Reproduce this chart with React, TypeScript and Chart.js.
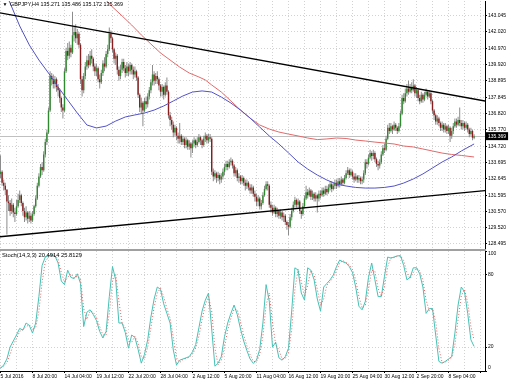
import { useEffect, useRef } from "react";
import { Chart, registerables } from "chart.js";

Chart.register(...registerables);

// ---------------- data ----------------
const symbolTitle = "GBPJPY,H4";
const lastBarOHLC = [135.271, 135.486, 135.172, 135.369];
const stochTitle = "Stoch(14,3,3)";
const stochLastValues = [20.4914, 25.8129];

const timeLabels = [
  "5 Jul 2016", "8 Jul 20:00", "14 Jul 04:00", "19 Jul 12:00", "22 Jul 20:00",
  "28 Jul 04:00", "2 Aug 12:00", "5 Aug 20:00", "11 Aug 04:00", "16 Aug 12:00",
  "19 Aug 20:00", "25 Aug 04:00", "30 Aug 12:00", "2 Sep 20:00", "8 Sep 04:00",
];
const barsPerGridLine = 10;
const gridLineCount = 31;

const priceTicks = [
  143.045, 142.02, 140.97, 139.92, 138.895, 137.845, 136.82, 135.77,
  134.72, 133.695, 132.645, 131.595, 130.57, 129.52, 128.495,
];
const stochTicks = [0, 20, 80, 100];

const firstOpen = 132.95;
const closes = [
  133.10, 132.40, 132.20, 131.95, 131.20, 131.10, 130.60, 131.00, 130.50, 130.40,
  130.90, 131.30, 131.60, 131.10, 130.60, 130.20, 130.50, 130.10, 130.30, 130.00,
  130.40, 130.90, 131.40, 132.20, 132.80, 133.40, 133.20, 134.20, 135.00, 135.60,
  137.00, 139.20, 139.00, 138.70, 139.00, 138.50, 138.30, 137.80, 137.20, 137.00,
  139.50, 140.80, 140.50, 141.00, 140.70, 141.80, 142.00, 141.60, 141.90, 141.20,
  139.00, 138.30, 139.20, 139.80, 140.20, 139.90, 140.50, 140.30, 139.80, 139.50,
  139.70, 139.00, 138.80, 139.40, 140.00, 139.80, 140.60, 140.90, 141.90, 141.60,
  140.90, 140.30, 140.50, 139.60, 139.20, 139.60, 140.10, 139.70, 139.40, 139.80,
  139.50, 139.90, 139.60, 139.30, 139.50, 139.10, 138.00, 137.20, 137.50, 137.00,
  137.60, 137.40, 137.90, 138.30, 138.80, 139.30, 138.90, 139.20, 139.00, 138.60,
  138.20, 138.50, 138.00, 138.60, 138.20, 136.70, 136.40, 136.10, 135.60, 135.90,
  135.40, 135.20, 135.40, 135.00, 135.20, 134.80, 135.10, 134.70, 134.90, 134.60,
  134.90, 135.10, 134.80, 135.00, 135.30, 135.10, 134.80, 135.20, 135.40, 135.10,
  135.30, 135.20, 133.10, 132.80, 133.00, 132.70, 132.90, 132.60, 132.80, 133.10,
  133.40, 133.60, 133.40, 133.70, 133.80, 133.50, 133.00, 133.20, 132.70, 132.80,
  132.50, 132.70, 132.40, 132.20, 132.40, 132.10, 131.90, 132.10, 131.70, 131.50,
  131.20, 131.40, 130.90, 131.10, 131.60, 132.00, 132.30, 132.20, 131.00, 130.80,
  130.50, 130.80, 130.40, 130.60, 130.30, 130.50, 130.20, 130.30, 129.90, 129.70,
  129.60, 130.20, 130.60, 131.00, 131.30, 131.00, 131.20, 130.60, 130.40, 130.90,
  131.40, 131.80, 131.60, 131.90, 131.50, 131.70, 131.40, 131.60, 131.40, 131.70,
  131.60, 131.90, 131.70, 132.00, 131.80, 132.10, 132.30, 132.00, 132.20, 132.40,
  132.20, 132.50, 132.30, 132.60, 132.40, 132.70, 133.00, 133.20, 132.90, 133.10,
  132.80, 132.60, 132.80, 132.60, 132.70, 132.50, 132.60, 133.00, 133.70, 133.60,
  134.00, 134.30, 134.10, 134.30, 133.90, 133.60, 133.50, 133.70, 134.20, 134.60,
  134.50, 135.20, 135.90, 135.70, 136.00, 135.80, 136.10, 135.90, 135.70, 136.00,
  136.80, 137.80, 137.60, 138.10, 138.40, 138.20, 138.50, 138.30, 138.60, 138.10,
  138.30, 137.80, 137.60, 138.00, 137.70, 138.00, 138.20, 137.90, 138.10, 137.60,
  137.00, 136.70, 136.30, 136.50, 136.20, 135.90, 136.10, 135.80, 136.00, 135.70,
  135.90, 135.40, 135.70, 136.00, 136.30, 136.10, 136.40, 136.20, 136.00, 136.20,
  135.90, 136.10, 135.80, 135.50, 135.70, 135.271, 135.369,
];
const highs = [
  134.15, 133.20, 132.60, 132.40, 132.00, 131.60, 131.30, 131.40, 131.10, 130.80,
  131.30, 131.70, 131.90, 131.70, 131.20, 130.80, 130.90, 130.60, 130.60, 130.50,
  130.60, 131.00, 131.60, 132.40, 133.00, 133.60, 133.70, 134.40, 135.20, 135.80,
  137.20, 139.50, 139.40, 139.30, 139.20, 139.10, 138.70, 138.40, 137.90, 137.40,
  139.70, 141.00, 141.30, 141.40, 141.20, 143.30, 142.40, 142.50, 142.20, 142.00,
  141.30, 139.20, 139.40, 140.10, 140.50, 140.60, 140.80, 140.90, 140.40, 140.00,
  140.00, 139.80, 139.30, 139.60, 140.20, 140.40, 140.80, 141.20, 142.30, 142.10,
  141.70, 141.00, 140.70, 140.60, 139.80, 139.90, 140.30, 140.30, 139.90, 140.10,
  140.00, 140.10, 140.00, 139.80, 139.80, 139.60, 139.20, 138.10, 137.80, 137.60,
  137.80, 137.90, 138.10, 138.50, 139.00, 139.90, 139.50, 139.40, 139.50, 139.10,
  138.70, 138.70, 138.60, 138.80, 139.10, 138.30, 136.90, 136.60, 136.30, 136.10,
  136.00, 135.60, 136.20, 135.50, 135.40, 135.30, 135.30, 135.20, 135.10, 135.00,
  135.10, 135.30, 135.20, 135.30, 135.50, 135.40, 135.20, 135.40, 135.60, 135.50,
  135.50, 135.50, 135.30, 133.30, 133.20, 133.10, 133.10, 133.00, 133.00, 133.30,
  133.60, 133.80, 133.80, 133.90, 134.00, 133.90, 133.60, 133.40, 133.30, 133.00,
  132.90, 132.90, 132.80, 132.60, 132.60, 132.50, 132.30, 132.30, 132.20, 131.90,
  131.70, 131.60, 131.50, 131.30, 131.80, 132.20, 132.50, 132.50, 132.30, 131.20,
  131.00, 131.00, 130.90, 130.80, 130.70, 130.70, 130.60, 130.50, 130.40, 130.00,
  129.90, 130.40, 130.80, 131.20, 131.50, 131.40, 131.40, 131.30, 130.70, 131.10,
  131.60, 132.20, 132.00, 132.10, 132.00, 131.90, 131.80, 131.80, 131.70, 131.90,
  131.90, 132.10, 132.10, 132.20, 132.20, 132.30, 132.50, 132.50, 132.40, 132.60,
  132.60, 132.70, 132.70, 132.80, 132.70, 132.90, 133.20, 133.40, 133.30, 133.30,
  133.20, 133.00, 133.00, 132.90, 132.90, 132.80, 132.80, 133.20, 133.90, 133.90,
  134.20, 134.50, 134.40, 134.50, 134.40, 134.00, 133.80, 133.90, 134.40, 134.80,
  134.90, 135.40, 136.10, 136.20, 136.20, 136.10, 136.30, 136.20, 136.00, 136.20,
  137.00, 138.00, 138.10, 138.40, 138.70, 138.90, 138.70, 138.80, 139.00, 138.70,
  138.50, 138.40, 138.00, 138.20, 138.10, 138.20, 138.40, 138.30, 138.30, 138.20,
  137.70, 137.10, 136.80, 136.70, 136.60, 136.30, 136.30, 136.20, 136.20, 136.10,
  136.10, 136.00, 135.90, 136.20, 136.50, 136.50, 136.60, 137.20, 136.40, 136.40,
  136.30, 136.30, 136.20, 135.90, 135.90, 135.80, 135.486,
];
const lows = [
  132.70, 132.20, 131.90, 131.60, 129.10, 130.60, 130.30, 130.40, 130.20, 129.90,
  130.30, 130.80, 131.10, 130.90, 130.30, 129.90, 130.00, 129.80, 129.90, 129.80,
  129.90, 130.30, 130.80, 131.30, 132.10, 132.70, 132.90, 133.10, 134.00, 134.80,
  135.50, 136.90, 138.60, 138.40, 138.40, 138.20, 137.90, 137.50, 136.90, 136.50,
  136.90, 139.40, 140.20, 140.30, 140.40, 140.60, 141.40, 141.30, 141.20, 141.00,
  138.70, 137.90, 138.10, 139.00, 139.60, 139.70, 139.80, 140.00, 139.50, 139.20,
  139.20, 138.80, 138.40, 138.70, 139.20, 139.50, 139.70, 140.40, 140.80, 141.30,
  140.70, 140.00, 139.90, 139.30, 138.90, 139.00, 139.40, 139.50, 139.10, 139.20,
  139.20, 139.30, 139.30, 139.00, 139.10, 138.90, 137.80, 136.90, 136.80, 136.00,
  136.90, 137.10, 137.20, 137.70, 138.10, 138.60, 138.60, 138.70, 138.70, 138.30,
  137.90, 137.90, 137.70, 137.90, 138.00, 136.50, 136.00, 135.80, 135.30, 135.40,
  135.10, 134.90, 134.90, 134.80, 134.80, 134.60, 134.60, 134.50, 134.50, 134.00,
  134.30, 134.70, 134.60, 134.70, 134.90, 134.80, 134.60, 134.70, 135.00, 134.90,
  134.90, 135.00, 132.90, 132.50, 132.60, 132.40, 132.50, 132.30, 132.40, 132.60,
  132.90, 133.20, 133.20, 133.30, 133.50, 133.30, 132.80, 132.80, 132.50, 132.40,
  132.30, 132.30, 132.20, 131.90, 132.00, 131.90, 131.70, 131.70, 131.50, 131.20,
  130.90, 130.90, 130.70, 130.70, 131.00, 131.50, 131.90, 131.90, 130.80, 130.50,
  130.30, 130.40, 130.20, 130.20, 130.10, 130.10, 130.00, 129.90, 129.70, 129.40,
  129.05, 129.50, 130.00, 130.50, 130.80, 130.80, 130.80, 130.40, 130.10, 130.30,
  130.80, 131.30, 131.40, 131.50, 131.30, 131.30, 131.20, 131.20, 130.50, 131.20,
  131.40, 131.50, 131.50, 131.60, 131.60, 131.70, 131.90, 131.80, 131.90, 132.00,
  132.00, 132.10, 132.10, 132.20, 132.20, 132.30, 132.60, 132.90, 132.70, 132.80,
  132.60, 132.40, 132.50, 132.40, 132.40, 132.30, 132.30, 132.40, 132.90, 133.30,
  133.50, 133.90, 133.80, 133.90, 133.70, 133.40, 133.20, 133.30, 133.60, 134.10,
  134.30, 134.40, 135.10, 135.50, 135.60, 135.50, 135.70, 135.70, 135.50, 135.60,
  135.90, 136.70, 137.40, 137.50, 137.90, 138.00, 138.10, 138.10, 138.20, 137.90,
  137.80, 137.60, 137.40, 137.50, 137.50, 137.60, 137.90, 137.70, 137.80, 137.40,
  136.80, 136.40, 136.10, 136.10, 136.00, 135.70, 135.70, 135.60, 135.60, 135.50,
  135.50, 135.00, 135.20, 135.50, 135.90, 135.90, 136.00, 136.00, 135.80, 135.80,
  135.70, 135.80, 135.60, 135.30, 135.40, 135.10, 135.172,
];

// moving averages, read at sampled bars
const blueMaBars = [
  3, 6, 12, 18, 24, 30, 36, 42, 48, 54, 60, 66, 72, 78, 84, 90, 96, 102, 108, 114,
  120, 126, 132, 138, 144, 150, 156, 162, 168, 174, 180, 186, 192, 198, 204, 210,
  216, 222, 228, 234, 240, 246, 252, 258, 264, 270, 276, 282, 288, 296,
];
const blueMaValues = [
  144.49, 143.85, 142.39, 141.18, 140.22, 139.39, 138.50, 137.67, 136.84, 136.08,
  135.89, 136.01, 136.33, 136.59, 136.72, 136.84, 137.03, 137.29, 137.61, 137.93,
  138.18, 138.25, 138.18, 137.86, 137.48, 137.03, 136.52, 135.95, 135.38, 134.87,
  134.30, 133.72, 133.27, 132.89, 132.57, 132.32, 132.19, 132.10, 132.06, 132.06,
  132.10, 132.19, 132.38, 132.64, 132.96, 133.34, 133.72, 134.04, 134.42, 134.87,
];
const redMaBars = [
  64, 70, 76, 82, 88, 94, 100, 106, 112, 118, 124, 128, 132, 138, 144, 150, 156,
  162, 168, 174, 180, 186, 192, 198, 204, 210, 216, 222, 228, 234, 240, 246, 252,
  258, 264, 270, 276, 282, 288, 296,
];
const redMaValues = [
  144.24, 143.60, 143.03, 142.45, 141.82, 141.24, 140.67, 140.22, 139.77, 139.39,
  139.14, 138.95, 138.63, 138.18, 137.61, 137.03, 136.52, 136.08, 135.82, 135.63,
  135.50, 135.38, 135.25, 135.15, 135.19, 135.25, 135.22, 135.12, 135.06, 134.99,
  134.93, 134.87, 134.74, 134.68, 134.55, 134.42, 134.29, 134.20, 134.14, 134.04,
];

// trend lines (bar index, price)
const upperTrendBars = [-1, 305];
const upperTrendPrices = [143.24, 137.57];
const lowerTrendBars = [-1, 305];
const lowerTrendPrices = [128.95, 131.92];

// stochastic, read every 2 bars
const stochStep = 2;
const stochMain = [
  2.2, 5, 10, 20, 25, 30, 35.5, 34, 40, 38,
  31.6, 40, 62, 88, 95, 96, 97, 96, 90, 75,
  72, 84, 78, 77, 81, 73, 37, 49, 51, 47,
  42, 33, 27.5, 33, 62, 87, 76, 40, 40, 32,
  19, 30, 28, 18, 6.5, 14, 26, 45, 60, 70,
  68, 56, 48, 40, 17.5, 5, 9, 10, 11, 12,
  16, 22, 36, 50, 59, 65, 35, 4, 6.5, 12,
  28.6, 40, 48, 55, 47, 35, 25, 17, 10, 6.4,
  9, 18, 40, 72, 58, 20, 24, 11, 9, 12,
  19, 50, 86, 84, 65, 59, 86, 84, 76, 60,
  50, 70, 73, 76, 80, 87, 92.5, 91, 90, 87,
  82, 70, 54, 51, 58, 78, 90, 76, 62, 62,
  79, 95, 94, 95, 96, 96, 88, 76, 78, 86,
  86, 81, 70, 48, 52, 52, 30, 8, 6.5, 8,
  10, 12, 31.6, 55, 70, 66, 48, 26, 20.49,
];
const stochSignal = [
  3, 4, 7, 14, 22, 27, 33, 34.5, 37, 38.5,
  35, 36, 50, 74, 91, 95, 96.5, 96.5, 93, 82,
  74, 78, 81, 77.5, 79, 77, 52, 43, 50, 49,
  44.5, 37, 30, 30, 48, 75, 81, 58, 40, 36,
  25, 24, 29, 23, 12, 10, 20, 36, 53, 65,
  69, 62, 52, 44, 28, 11, 7, 9.5, 10.5, 11.5,
  14, 19, 29, 43, 55, 62, 50, 19, 5, 9,
  20, 34, 44, 51.5, 51, 41, 30, 21, 13.5, 8,
  7.7, 13.5, 29, 55, 65, 40, 22, 17.5, 10, 10.5,
  15.5, 34.5, 68, 85, 74.5, 62, 71.5, 84, 80, 68,
  55, 60, 71.5, 74.5, 78, 83.5, 90, 92, 90.5, 88.5,
  84.5, 76, 62, 52.5, 54.5, 68, 84, 83, 69, 62,
  70.5, 87, 94.5, 94.5, 95.5, 96, 92, 82, 77, 82,
  86, 83.5, 75.5, 59, 50, 52, 41, 19, 7, 7.5,
  9, 11, 22, 43, 62.5, 68, 57, 37, 25.81,
];

// ---------------- styling ----------------
const FONT_FAMILY = "'Liberation Sans', Arial, sans-serif";
const BULL = "#2f8a2f";
const BEAR = "#8a1e1e";
const WICK = "#8c8c8c";
const GRID = "#d2d2d2";
const X_MIN = -0.3125;
const X_MAX = X_MIN + 485 / 1.6;

function textPlugin(items: { text: string; x: number; y: number; size: number }[]) {
  return {
    id: "overlayText",
    afterDraw(chart: any) {
      const ctx = chart.ctx;
      ctx.save();
      ctx.fillStyle = "#000";
      ctx.textBaseline = "middle";
      ctx.textAlign = "left";
      for (const it of items) {
        ctx.font = `${it.size}px ${FONT_FAMILY}`;
        ctx.fillText(it.text, it.x, it.y);
      }
      ctx.restore();
    },
  };
}

function xScale(withLabels: boolean) {
  const gridBars = Array.from({ length: gridLineCount }, (_, k) => k * barsPerGridLine);
  return {
    type: "linear",
    min: X_MIN,
    max: X_MAX,
    offset: false,
    afterBuildTicks: (s: any) => {
      s.ticks = gridBars.map((v) => ({ value: v }));
    },
    afterFit: (s: any) => {
      s.height = withLabels ? 11 : 0;
      s.paddingLeft = 0;
      s.paddingRight = 0;
    },
    ticks: {
      display: withLabels,
      autoSkip: false,
      maxRotation: 0,
      minRotation: 0,
      align: "start",
      padding: 1,
      color: "#000",
      font: { family: FONT_FAMILY, size: 5 },
      callback: (_v: any, i: number) => (i % 2 === 0 && timeLabels[i / 2]) || "",
    },
    grid: {
      offset: false,
      color: GRID,
      lineWidth: 1,
      drawTicks: withLabels,
      tickLength: 2,
      tickColor: (c: any) => (c.index % 2 === 0 ? "#000" : "rgba(0,0,0,0)"),
    },
    border: { display: withLabels, color: "#000", width: 1, dash: [1, 2] },
  };
}

export default function App() {
  const refA = useRef<HTMLCanvasElement>(null);
  const refB = useRef<HTMLCanvasElement>(null);

  useEffect(() => {
    const opens = closes.map((c, i) => (i === 0 ? firstOpen : closes[i - 1]));
    const lastClose = closes[closes.length - 1];
    const wickData = closes.map((c, i) => ({
      x: i,
      y: [Math.min(lows[i], opens[i], c), Math.max(highs[i], opens[i], c)],
    }));
    const bodyData = closes.map((c, i) => ({ x: i, y: [opens[i], c] }));
    const bodyColors = closes.map((c, i) => (c >= opens[i] ? BULL : BEAR));
    const pts = (xs: number[], ys: number[]) => xs.map((x, i) => ({ x, y: ys[i] }));
    const stochPts = (vals: number[]) => vals.map((v, k) => ({ x: k * stochStep, y: v }));

    const headerText = `${symbolTitle} ${lastBarOHLC.map((v) => v.toFixed(3)).join(" ")}`;
    const stochText = `${stochTitle} ${stochLastValues.map((v) => v.toFixed(4)).join(" ")}`;
    const priceTickCount = priceTicks.length;

    const chartA = new Chart(refA.current as HTMLCanvasElement, {
      type: "bar",
      data: {
        datasets: [
          { type: "line", label: "upper trend", data: pts(upperTrendBars, upperTrendPrices), borderColor: "#000", borderWidth: 1.3, pointRadius: 0, order: 1 },
          { type: "line", label: "lower trend", data: pts(lowerTrendBars, lowerTrendPrices), borderColor: "#000", borderWidth: 1.3, pointRadius: 0, order: 1 },
          { type: "line", label: "MA fast", data: pts(blueMaBars, blueMaValues), borderColor: "#5252c8", borderWidth: 1, pointRadius: 0, order: 2 },
          { type: "line", label: "MA slow", data: pts(redMaBars, redMaValues), borderColor: "#e26a6a", borderWidth: 1, pointRadius: 0, order: 3 },
          { type: "bar", label: "body", data: bodyData, backgroundColor: bodyColors, borderWidth: 0, grouped: false, barThickness: 1.4, maxBarThickness: 1.4, minBarLength: 1, inflateAmount: 0, order: 4 },
          { type: "bar", label: "wick", data: wickData, backgroundColor: WICK, borderWidth: 0, grouped: false, barThickness: 1, maxBarThickness: 1, inflateAmount: 0, order: 5 },
        ] as any,
      },
      options: {
        animation: false,
        responsive: false,
        events: [],
        layout: { padding: { top: 1, left: 0, right: 0, bottom: 0 } },
        plugins: { legend: { display: false }, tooltip: { enabled: false } },
        scales: {
          x: xScale(false) as any,
          y: {
            type: "linear",
            position: "right",
            min: 128.176,
            max: 143.982,
            afterBuildTicks: (s: any) => {
              s.ticks = [...priceTicks.map((v) => ({ value: v })), { value: lastClose }];
            },
            afterFit: (s: any) => {
              s.width = 25;
              s.paddingTop = 0;
              s.paddingBottom = 0;
            },
            ticks: {
              autoSkip: false,
              padding: 1,
              font: { family: FONT_FAMILY, size: 5 },
              color: (c: any) => (c.index === priceTickCount ? "#fff" : "#000"),
              showLabelBackdrop: (c: any) => c.index === priceTickCount,
              backdropColor: "#000",
              backdropPadding: { x: 2, y: 1 },
              callback: (_v: any, i: number) =>
                i < priceTickCount ? priceTicks[i].toFixed(3) : lastClose.toFixed(3),
            },
            grid: {
              color: (c: any) => (c.tick && c.index === priceTickCount ? "#c0c0c0" : GRID),
              lineWidth: 1,
              drawTicks: true,
              tickLength: 2,
              tickColor: "#000",
            },
            border: {
              display: true,
              color: "#000",
              width: 1,
              dash: (c: any) => (c.tick && c.index === priceTickCount ? [] : [1, 2]),
            },
          } as any,
        },
      },
      plugins: [
        textPlugin([
          { text: "\u25BC", x: 2.5, y: 5, size: 5 },
          { text: headerText, x: 10, y: 5, size: 5.4 },
        ]),
      ],
    });

    const chartB = new Chart(refB.current as HTMLCanvasElement, {
      type: "line",
      data: {
        datasets: [
          { label: "signal", data: stochPts(stochSignal), borderColor: "#e46464", borderWidth: 1, borderDash: [1, 2], pointRadius: 0, order: 1 },
          { label: "main", data: stochPts(stochMain), borderColor: "#45c2b6", borderWidth: 1, pointRadius: 0, order: 2 },
        ],
      },
      options: {
        animation: false,
        responsive: false,
        events: [],
        layout: { padding: { top: 0, left: 0, right: 0, bottom: 0 } },
        plugins: { legend: { display: false }, tooltip: { enabled: false } },
        scales: {
          x: xScale(true) as any,
          y: {
            type: "linear",
            position: "right",
            min: 0,
            max: 100,
            afterBuildTicks: (s: any) => {
              s.ticks = stochTicks.map((v) => ({ value: v }));
            },
            afterFit: (s: any) => {
              s.width = 25;
              s.paddingTop = 0;
              s.paddingBottom = 0;
            },
            ticks: {
              autoSkip: false,
              padding: 1,
              color: "#000",
              font: { family: FONT_FAMILY, size: 5 },
              callback: (v: any, i: number) => {
                const t = String(stochTicks[i]);
                if (i === 0) return [t, ""];
                if (i === stochTicks.length - 1) return ["", t];
                return t;
              },
            },
            grid: {
              color: (c: any) =>
                c.tick && c.index > 0 && c.index < stochTicks.length - 1 ? GRID : "rgba(0,0,0,0)",
              lineWidth: 1,
              drawTicks: true,
              tickLength: 2,
              tickColor: "#000",
            },
            border: { display: true, color: "#000", width: 1, dash: [1, 2] },
          } as any,
        },
      },
      plugins: [textPlugin([{ text: stochText, x: 2, y: 4, size: 5.8 }])],
    });

    return () => {
      chartA.destroy();
      chartB.destroy();
    };
  }, []);

  return (
    <div
      style={{
        position: "fixed",
        left: 0,
        top: 0,
        width: 510,
        height: 382,
        background: "#fff",
        overflow: "hidden",
      }}
    >
      <canvas ref={refA} width={510} height={249} style={{ position: "absolute", left: 0, top: 0, display: "block" }} />
      <div style={{ position: "absolute", left: 0, top: 249, width: 486, height: 2, background: "#a0a0a0" }} />
      <canvas ref={refB} width={510} height={131} style={{ position: "absolute", left: 0, top: 251, display: "block" }} />
    </div>
  );
}
